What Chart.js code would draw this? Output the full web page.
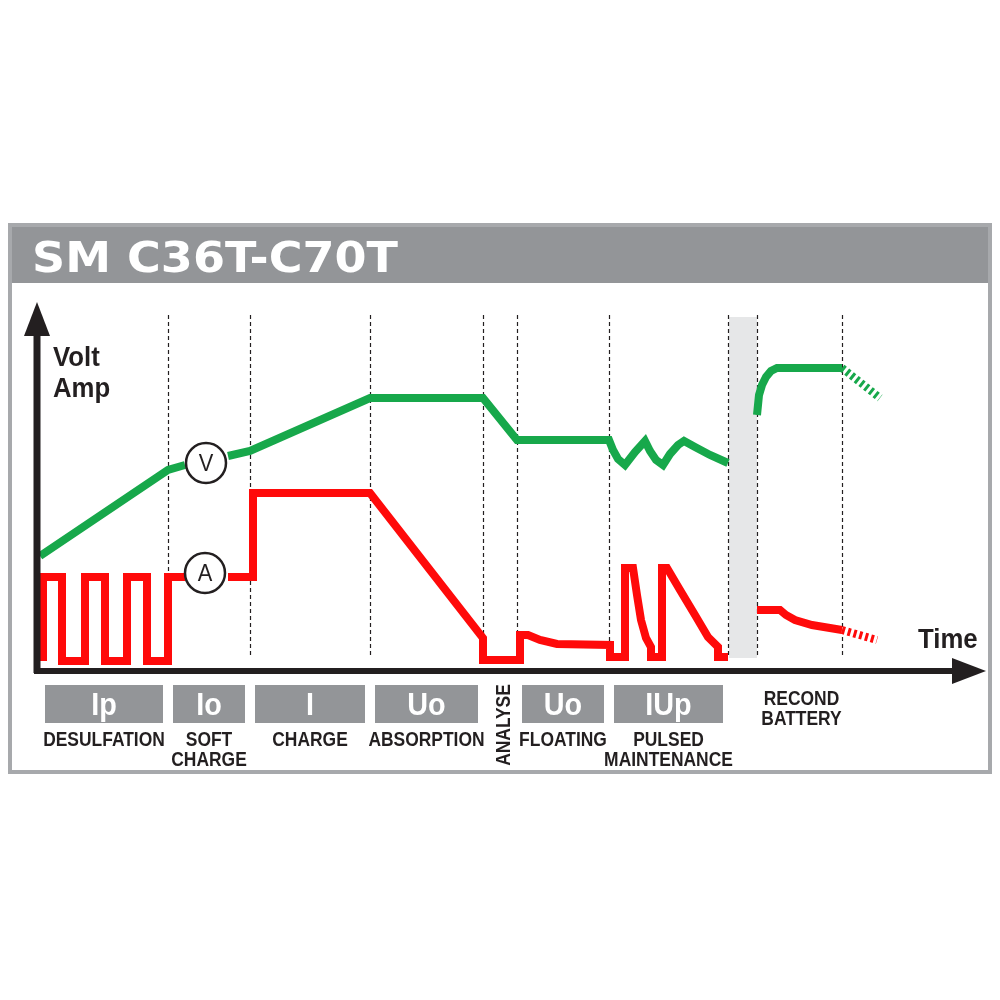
<!DOCTYPE html>
<html>
<head>
<meta charset="utf-8">
<script src="https://cdn.jsdelivr.net/npm/chart.js@4"></script>
<style>
  body { margin: 0; background: #fff; }
  canvas { display: block; }
</style>
</head>
<body>
<canvas id="chart" width="1000" height="1000"></canvas>
<script>
// time axis runs 40..985, level axis 0..370 (0 = time axis)
const phaseStart = [40, 168, 250, 370, 483, 517, 609, 757];
const phaseEnd   = [168, 250, 370, 483, 517, 609, 728, 842];
const phaseCodes = ['Ip', 'Io', 'I', 'Uo', '', 'Uo', 'IUp', ''];
const phaseNames = [['DESULFATION'], ['SOFT', 'CHARGE'], ['CHARGE'], ['ABSORPTION'], ['ANALYSE'],
                    ['FLOATING'], ['PULSED', 'MAINTENANCE'], ['RECOND', 'BATTERY']];
const stepEdges = [168, 250, 370, 483, 517, 609, 728, 757, 842];

// voltage curve
const voltT = [40, 168, 185, 200, 228, 250, 370, 483, 517, 609, 613, 618, 625, 635, 645, 650, 656, 663, 670, 678, 684, 695, 710, 728];
const voltV = [114, 200, 205, null, 214, 219, 272, 272, 230, 230, 220, 211, 205, 218, 229, 219, 210, 205, 216, 225, 229, 223, 215, 207];

// current curve
const ampT = [43, 43, 62, 62, 85, 85, 105, 105, 127, 127, 147, 147, 168, 168, 185, 200,
              228, 253, 253, 370, 483, 483, 520, 520, 528, 540, 557, 610, 610, 625, 625, 633, 637, 641, 646, 651, 651,
              662, 662, 667, 680, 695, 708, 718, 718, 728];
const ampA = [9, 93, 93, 9, 9, 93, 93, 9, 9, 93, 93, 9, 9, 93, 93, null,
              93, 93, 177, 177, 32, 10, 10, 35, 35, 30, 26, 25, 13, 13, 102, 102, 75, 50, 32, 23, 13,
              13, 102, 102, 80, 55, 33, 23, 13, 13];

// recond battery
const recVoltT = [757, 759, 762, 766, 771, 777, 842];
const recVoltV = [255, 275, 285, 293, 299, 302, 302];
const recVoltTailT = [842, 880];
const recVoltTailV = [302, 272];
const recAmpT = [757, 780, 786, 795, 812, 842];
const recAmpA = [60, 60, 55, 50, 45, 40];
const recAmpTailT = [842, 877];
const recAmpTailA = [40, 30];

const GREEN = '#17a84b';
const RED = '#ff0a0a';
const INK = '#231f20';
const GREY = '#939598';

function pts(xs, ys) { return xs.map((x, i) => ({ x: x, y: ys[i] })); }

function line(data, color, dash) {
  return {
    data: data, borderColor: color, borderWidth: 8, pointRadius: 0, tension: 0,
    borderJoinStyle: 'miter', borderCapStyle: 'butt', borderDash: dash || [], spanGaps: false, fill: false
  };
}

function txt(ctx, s, x, y, px, sx, align, color, family, weight) {
  ctx.save();
  ctx.font = (weight || 'bold') + ' ' + px + 'px ' + (family || '"Liberation Sans", Arial, sans-serif');
  ctx.fillStyle = color || INK;
  ctx.textBaseline = 'alphabetic';
  const w = ctx.measureText(s).width * sx;
  let x0 = x;
  if (align === 'center') x0 = x - w / 2;
  ctx.translate(x0, y);
  ctx.scale(sx, 1);
  ctx.textAlign = 'left';
  ctx.fillText(s, 0, 0);
  ctx.restore();
}

const decor = {
  id: 'decor',
  beforeDraw(chart) {
    const ctx = chart.ctx;
    ctx.save();
    ctx.fillStyle = '#fff';
    ctx.fillRect(0, 0, 1000, 1000);
    // frame and title bar
    ctx.fillStyle = GREY;
    ctx.fillRect(8, 223, 984, 60);
    ctx.strokeStyle = '#a7a9ac';
    ctx.lineWidth = 4;
    ctx.strokeRect(10, 225, 980, 547);
    ctx.restore();
    // title fitted to width
    ctx.save();
    ctx.font = 'bold 42px "DejaVu Sans", sans-serif';
    const tw = ctx.measureText('SM C36T-C70T').width;
    ctx.restore();
    txt(ctx, 'SM C36T-C70T', 32, 272, 42, 366 / tw, 'left', '#fff', '"DejaVu Sans", sans-serif');
  },
  beforeDatasetsDraw(chart) {
    const ctx = chart.ctx;
    const xs = chart.scales.x, ys = chart.scales.y;
    ctx.save();
    // recond band
    ctx.fillStyle = '#e6e7e8';
    const b0 = xs.getPixelForValue(729), b1 = xs.getPixelForValue(757);
    ctx.fillRect(b0, 317, b1 - b0, 341);
    // step boundaries
    ctx.strokeStyle = INK;
    ctx.lineWidth = 1.2;
    ctx.setLineDash([4, 3]);
    stepEdges.forEach(t => {
      const px = Math.round(xs.getPixelForValue(t)) + 0.5;
      ctx.beginPath();
      ctx.moveTo(px, 315);
      ctx.lineTo(px, ys.getPixelForValue(12));
      ctx.stroke();
    });
    ctx.restore();
  },
  afterDatasetsDraw(chart) {
    const ctx = chart.ctx;
    const a = chart.chartArea;
    const xs = chart.scales.x, ys = chart.scales.y;
    ctx.save();
    ctx.fillStyle = INK;
    ctx.strokeStyle = INK;
    // axes
    ctx.lineWidth = 7;
    ctx.beginPath();
    ctx.moveTo(a.left - 3, a.bottom + 3);
    ctx.lineTo(a.left - 3, 330);
    ctx.stroke();
    ctx.lineWidth = 6;
    ctx.beginPath();
    ctx.moveTo(a.left - 6, a.bottom + 1);
    ctx.lineTo(955, a.bottom + 1);
    ctx.stroke();
    ctx.beginPath();
    ctx.moveTo(a.left - 3, 302);
    ctx.lineTo(a.left - 16, 336);
    ctx.lineTo(a.left + 10, 336);
    ctx.closePath();
    ctx.fill();
    ctx.beginPath();
    ctx.moveTo(986, a.bottom + 1);
    ctx.lineTo(952, a.bottom - 12);
    ctx.lineTo(952, a.bottom + 14);
    ctx.closePath();
    ctx.fill();
    // V / A markers
    [['V', 206, 207], ['A', 205, 97]].forEach(m => {
      const cx = xs.getPixelForValue(m[1]), cy = ys.getPixelForValue(m[2]);
      ctx.beginPath();
      ctx.arc(cx, cy, 20, 0, Math.PI * 2);
      ctx.fillStyle = '#fff';
      ctx.fill();
      ctx.lineWidth = 2.5;
      ctx.strokeStyle = INK;
      ctx.stroke();
      txt(ctx, m[0], cx, cy + 8, 23, 0.95, 'center', INK, null, 'normal');
    });
    ctx.restore();

    // axis labels
    txt(ctx, 'Volt', 53, 366, 28, 0.92, 'left');
    txt(ctx, 'Amp', 53, 397, 28, 0.92, 'left');
    txt(ctx, 'Time', 918, 648, 28, 0.92, 'left');

    // phase boxes and names
    phaseStart.forEach((s, i) => {
      const e = phaseEnd[i];
      const p0 = xs.getPixelForValue(s), p1 = xs.getPixelForValue(e);
      const mid = (p0 + p1) / 2;
      if (phaseCodes[i]) {
        ctx.fillStyle = GREY;
        ctx.fillRect(p0 + 5, 685, p1 - p0 - 10, 38);
        txt(ctx, phaseCodes[i], mid, 715, 32, 0.9, 'center', '#fff');
        phaseNames[i].forEach((n, j) => txt(ctx, n, mid, 746 + j * 20, 21, 0.83, 'center'));
      } else if (phaseNames[i][0] === 'ANALYSE') {
        ctx.save();
        ctx.translate(510, 725);
        ctx.rotate(-Math.PI / 2);
        txt(ctx, 'ANALYSE', 0, 0, 21, 0.83, 'center');
        ctx.restore();
      } else {
        phaseNames[i].forEach((n, j) => txt(ctx, n, mid + 2, 705 + j * 20, 21, 0.83, 'center'));
      }
    });
  }
};

new Chart(document.getElementById('chart'), {
  type: 'line',
  data: {
    datasets: [
      line(pts(voltT, voltV), GREEN),
      line(pts(ampT, ampA), RED),
      line(pts(recVoltT, recVoltV), GREEN),
      line(pts(recVoltTailT, recVoltTailV), GREEN, [3, 3]),
      line(pts(recAmpT, recAmpA), RED),
      line(pts(recAmpTailT, recAmpTailA), RED, [3, 3])
    ]
  },
  options: {
    responsive: false,
    animation: false,
    layout: { padding: { left: 40, top: 300, right: 15, bottom: 330 } },
    plugins: { legend: { display: false }, tooltip: { enabled: false } },
    scales: {
      x: { type: 'linear', min: 40, max: 985, display: false },
      y: { type: 'linear', min: 0, max: 370, display: false }
    }
  },
  plugins: [decor]
});
</script>
</body>
</html>
